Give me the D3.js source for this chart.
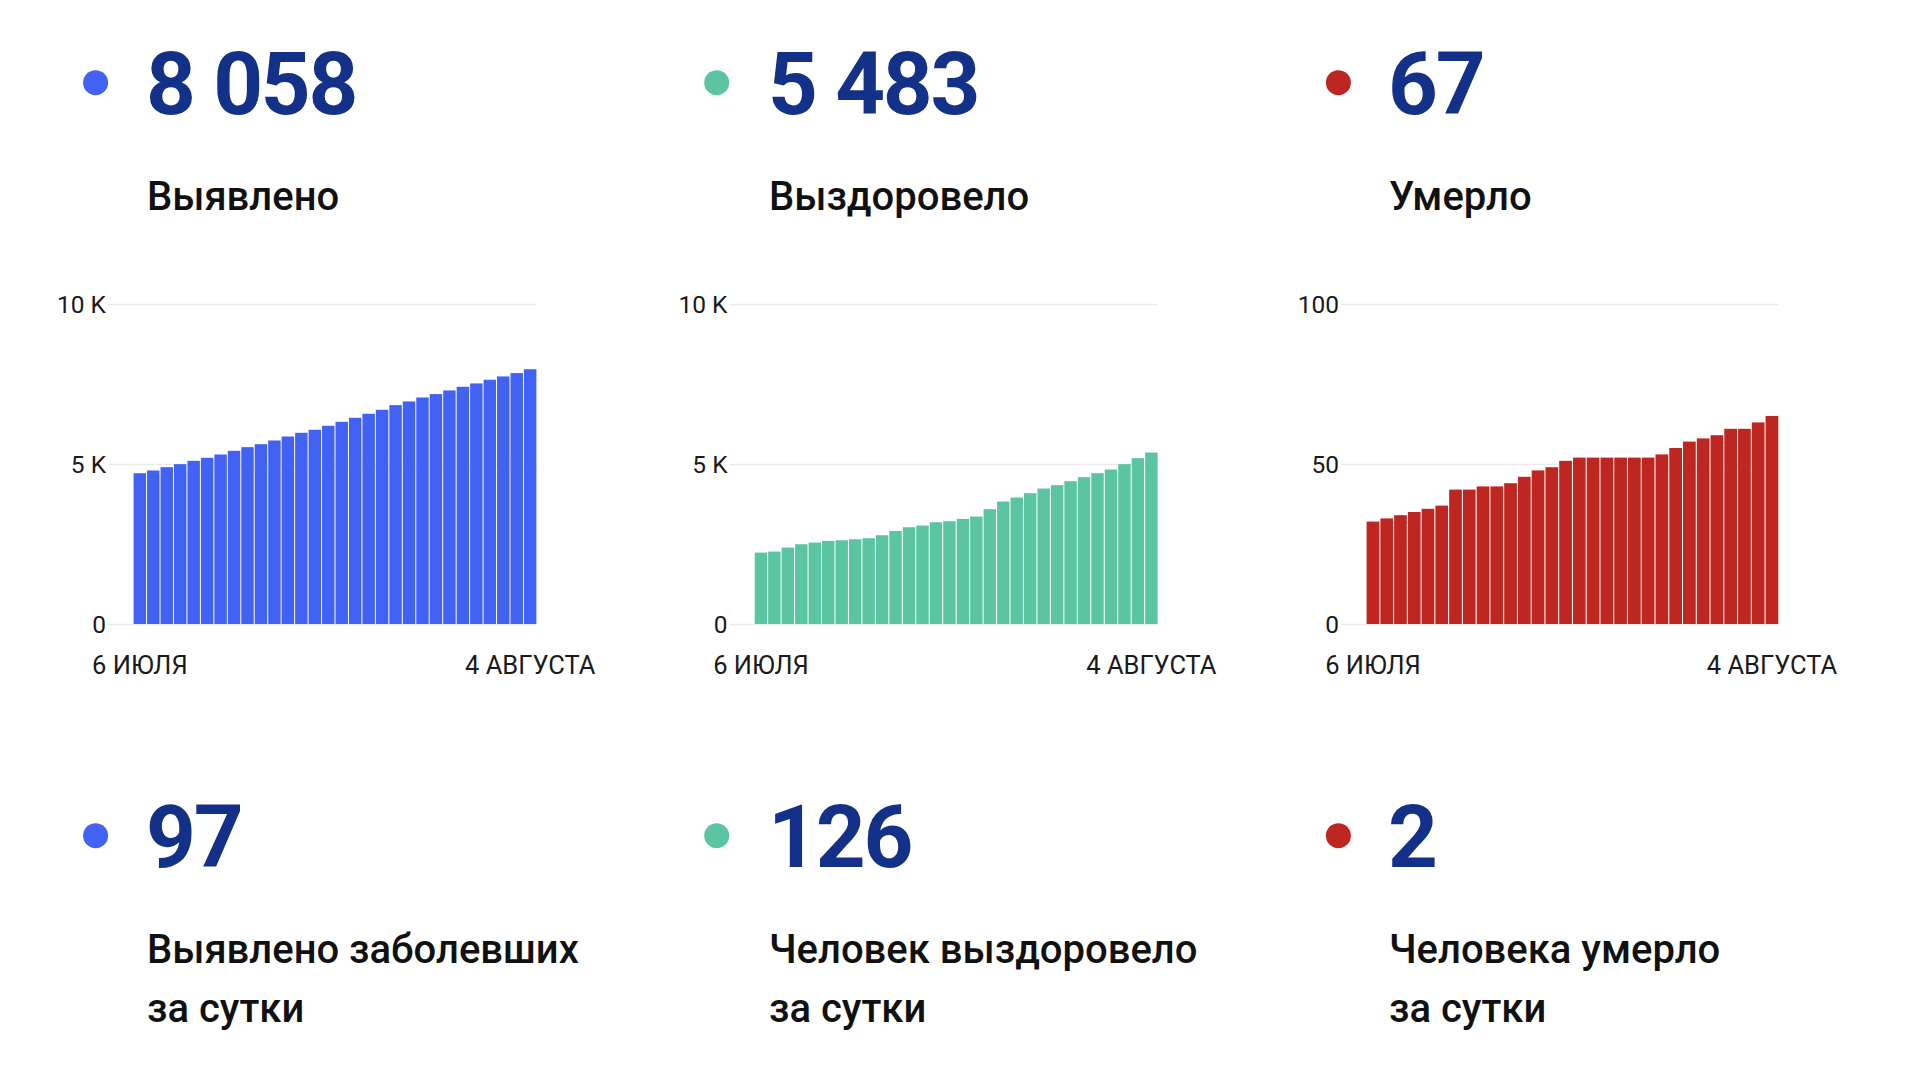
<!DOCTYPE html>
<html>
<head>
<meta charset="utf-8">
<script src="https://cdn.jsdelivr.net/npm/d3@7"></script>
<style>
  html, body { margin: 0; padding: 0; background: #ffffff; }
  svg { display: block; }
  text { font-family: Roboto, "Noto Sans", sans-serif; }
</style>
</head>
<body>
<svg id="chart" width="1920" height="1080"></svg>
<script>
// ---- data ----
const dateLabels = ["6 ИЮЛЯ", "4 АВГУСТА"];
const days = d3.range(30).map(i => i); // 30 days, 6 July .. 4 August

const casesValues = [4713, 4797, 4901, 4995, 5099, 5193, 5297, 5412, 5527, 5620,
  5735, 5860, 5975, 6069, 6194, 6319, 6444, 6569, 6694, 6840,
  6955, 7080, 7185, 7299, 7414, 7518, 7633, 7737, 7841, 7961];
const recoveredValues = [2231, 2263, 2388, 2492, 2544, 2596, 2617, 2649, 2680, 2774,
  2909, 3024, 3076, 3180, 3212, 3285, 3358, 3587, 3827, 3952,
  4088, 4234, 4338, 4463, 4588, 4713, 4828, 4995, 5183, 5357];
const deathsValues = [32, 33, 34, 35, 36, 37, 42, 42, 43, 43,
  44, 46, 48, 49, 51, 52, 52, 52, 52, 52,
  52, 53, 55, 57, 58, 59, 61, 61, 63, 65];

const thousandTicks = [0, 5000, 10000];
const thousandTickLabels = ["0", "5 K", "10 K"];
const deathTicks = [0, 50, 100];
const deathTickLabels = ["0", "50", "100"];

const totalNumbers = ["8 058", "5 483", "67"];
const totalLabels = ["Выявлено", "Выздоровело", "Умерло"];
const dailyNumbers = ["97", "126", "2"];
const dailyLabels = [["Выявлено заболевших", "за сутки"], ["Человек выздоровело", "за сутки"], ["Человека умерло", "за сутки"]];

// ---- styles / layout ----
const colors = ["#4262f4", "#5bc5a2", "#be2721"];
const numberColor = "#143189";
const dotX = [95.6, 716.7, 1338.4];
const textX = [147, 769, 1389];

const svg = d3.select("#chart");
svg.append("rect").attr("width", 1920).attr("height", 1080).attr("fill", "#fff");

// headline blocks
function block(i, numY, dotY, number, labels, labelY, lineH) {
  svg.append("circle").attr("cx", dotX[i]).attr("cy", dotY).attr("r", 12.5).attr("fill", colors[i]);
  svg.append("text").attr("x", textX[i] - 1).attr("y", numY)
    .attr("fill", numberColor).attr("font-size", 87).attr("font-weight", 700)
    .attr("letter-spacing", -2.2)
    .text(number);
  labels.forEach((l, k) => {
    svg.append("text").attr("x", textX[i]).attr("y", labelY + k * lineH)
      .attr("fill", "#111").attr("font-size", 40).attr("font-weight", 500)
      .text(l);
  });
}
for (let i = 0; i < 3; i++) {
  block(i, 113.5, 82.7, totalNumbers[i], [totalLabels[i]], 209.5, 0);
  block(i, 866.5, 835.7, dailyNumbers[i], dailyLabels[i], 963, 58.5);
}

// bar charts
const charts = [
  { values: casesValues, max: 10000, ticks: thousandTicks, tickLabels: thousandTickLabels,
    gridX0: 108, barX0: 133.6, barX1: 536.4 },
  { values: recoveredValues, max: 10000, ticks: thousandTicks, tickLabels: thousandTickLabels,
    gridX0: 729.5, barX0: 754.7, barX1: 1157.6 },
  { values: deathsValues, max: 100, ticks: deathTicks, tickLabels: deathTickLabels,
    gridX0: 1341, barX0: 1366.6, barX1: 1778.3 }
];
const yTop = 304, yBottom = 624;

charts.forEach((c, i) => {
  const g = svg.append("g");
  const y = d3.scaleLinear().domain([0, c.max]).range([yBottom, yTop]);
  const x = d3.scaleBand().domain(days).range([c.barX0, c.barX1]).paddingInner(0.075).paddingOuter(0);

  const yAxis = d3.axisLeft(y)
    .tickValues(c.ticks)
    .tickFormat((d, k) => c.tickLabels[k])
    .tickSize(-(c.barX1 - c.gridX0))
    .tickPadding(2);
  const ya = g.append("g").attr("transform", `translate(${c.gridX0},0)`).call(yAxis);
  ya.select(".domain").remove();
  ya.selectAll(".tick line").attr("stroke", "#ebebeb").attr("stroke-width", 1.5);
  ya.selectAll(".tick text").attr("fill", "#1a1a1a").attr("font-size", 24.5)
    .attr("font-family", "Roboto, sans-serif").attr("dy", "0.34em");

  g.append("g").selectAll("rect").data(c.values).join("rect")
    .attr("x", (d, k) => x(days[k]))
    .attr("width", x.bandwidth())
    .attr("y", d => y(d))
    .attr("height", d => y(0) - y(d))
    .attr("fill", colors[i]);

  const xAxis = d3.axisBottom(x)
    .tickValues([days[0], days[days.length - 1]])
    .tickFormat((d, k) => dateLabels[k])
    .tickSize(0)
    .tickPadding(0);
  const xa = g.append("g").attr("transform", `translate(0,${yBottom})`).call(xAxis);
  xa.select(".domain").remove();
  xa.selectAll(".tick text").attr("fill", "#1a1a1a").attr("font-size", 25.5)
    .attr("font-family", "Roboto, sans-serif").attr("dy", null).attr("y", 49.5);
});
</script>
</body>
</html>
